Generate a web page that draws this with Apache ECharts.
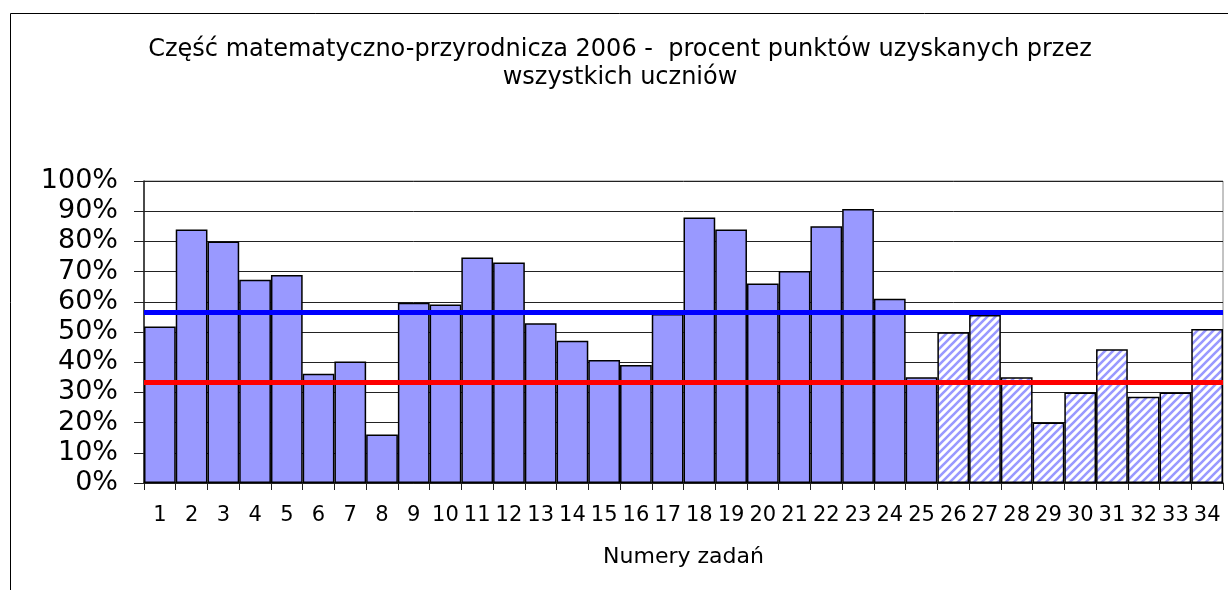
<!DOCTYPE html>
<html>
<head>
<meta charset="utf-8">
<script src="https://cdn.jsdelivr.net/npm/echarts@6/dist/echarts.min.js"></script>
<style>
html,body{margin:0;padding:0;background:#fff;}
#chart{width:1228px;height:590px;}
</style>
</head>
<body>
<div id="chart"></div>
<script>
const titleText = 'Część matematyczno-przyrodnicza 2006 -  procent punktów uzyskanych przez\nwszystkich uczniów';
const xAxisName = 'Numery zadań';
const categories = ['1','2','3','4','5','6','7','8','9','10','11','12','13','14','15','16','17','18','19','20','21','22','23','24','25','26','27','28','29','30','31','32','33','34'];
const solidValues = [51.8,83.9,80.0,67.3,68.9,36.2,40.2,16.1,59.7,59.1,74.7,73.0,52.9,47.1,40.7,39.1,56.0,87.9,83.9,66.1,70.2,85.0,90.7,61.0,35.0];
const hatchedValues = [49.9,55.6,35.0,20.0,30.0,44.3,28.6,30.0,51.0];
const blueLineValue = 56.6;
const redLineValue = 33.3;
const yTicks = [0,10,20,30,40,50,60,70,80,90,100];

const FONT = 'DejaVu Sans';

// hatch pattern
const pc = document.createElement('canvas');
pc.width = 8; pc.height = 8;
const ctx = pc.getContext('2d');
ctx.fillStyle = '#ffffff';
ctx.fillRect(0,0,8,8);
ctx.strokeStyle = '#9999ff';
ctx.lineWidth = 2.6;
ctx.beginPath();
ctx.moveTo(-2,10); ctx.lineTo(10,-2);
ctx.moveTo(-6,6); ctx.lineTo(6,-6);
ctx.moveTo(2,14); ctx.lineTo(14,2);
ctx.stroke();

const nSolid = solidValues.length;
const solidData = categories.map((c,i)=> i < nSolid ? solidValues[i] : '-');
const hatchData = categories.map((c,i)=> i >= nSolid ? hatchedValues[i - nSolid] : '-');

const chart = echarts.init(document.getElementById('chart'), null, {renderer:'canvas'});
chart.setOption({
  animation:false,
  backgroundColor:'#ffffff',
  title:{
    text:titleText,
    left:615, top:31, textAlign:'center',
    textStyle:{fontFamily:FONT,fontSize:24,fontWeight:'normal',color:'#000',lineHeight:28}
  },
  graphic:[{
    type:'rect', shape:{x:10.5,y:13.5,width:1400,height:800},
    style:{fill:'none',stroke:'#000',lineWidth:1}, silent:true, z:-1
  }],
  grid:{left:144,right:5,top:181,bottom:107,show:true,borderColor:'#888',borderWidth:1,backgroundColor:'transparent'},
  xAxis:{
    type:'category', data:categories,
    name:xAxisName, nameLocation:'middle', nameGap:63,
    nameTextStyle:{fontFamily:FONT,fontSize:22,color:'#000'},
    axisLine:{lineStyle:{color:'#222',width:1.5}},
    axisTick:{show:true,length:7,alignWithLabel:false,lineStyle:{color:'#222'}},
    axisLabel:{fontFamily:FONT,fontSize:21,color:'#000',margin:22,interval:0}
  },
  yAxis:{
    type:'value', min:0, max:100, interval:10,
    axisLine:{show:true,lineStyle:{color:'#222',width:1.5}},
    axisTick:{show:true,length:10,lineStyle:{color:'#222'}},
    axisLabel:{fontFamily:FONT,fontSize:27,color:'#000',margin:26,formatter:v=>yTicks.includes(v)?v+'%':''},
    splitLine:{show:true,lineStyle:{color:'#222',width:1}}
  },
  series:[
    {
      type:'bar', data:solidData, barCategoryGap:'0%', barGap:'-100%',
      itemStyle:{color:'#9999ff',borderColor:'#000',borderWidth:1.5},
      markLine:{
        silent:true, symbol:'none', label:{show:false},
        data:[
          {yAxis:blueLineValue, lineStyle:{color:'#0000ff',width:5,type:'solid'}},
          {yAxis:redLineValue, lineStyle:{color:'#ff0000',width:5,type:'solid'}}
        ],
        z:10
      }
    },
    {
      type:'bar', data:hatchData, barCategoryGap:'0%', barGap:'-100%',
      itemStyle:{color:{image:pc,repeat:'repeat'},borderColor:'#000',borderWidth:1.5}
    }
  ]
});
</script>
</body>
</html>
